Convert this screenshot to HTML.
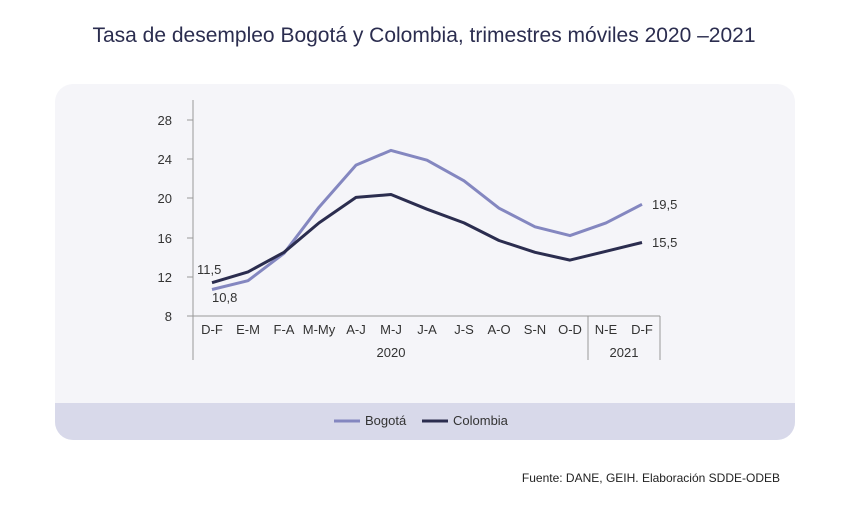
<!DOCTYPE html>
<html><head><meta charset="utf-8"><style>
body{margin:0;background:#fff;width:850px;height:511px;overflow:hidden;font-family:"Liberation Sans",sans-serif}
</style></head><body>
<svg width="850" height="511" xmlns="http://www.w3.org/2000/svg" font-family="Liberation Sans, sans-serif">
<rect width="850" height="511" fill="#fff"/>
<text x="424" y="42" text-anchor="middle" font-size="21" fill="#2b2d4f">Tasa de desempleo Bogotá y Colombia, trimestres móviles 2020 –2021</text>
<rect x="55" y="84" width="740" height="356" rx="18" fill="#f5f5f9"/>
<path d="M55 403 H795 V422 a18 18 0 0 1 -18 18 H73 a18 18 0 0 1 -18 -18 Z" fill="#d8d9ea"/>
<g stroke="#999" stroke-width="1" fill="none">
<line x1="193" y1="100" x2="193" y2="360"/>
<line x1="193" y1="316" x2="660" y2="316"/>
<line x1="588" y1="316" x2="588" y2="360"/>
<line x1="660" y1="316" x2="660" y2="360"/>
<line x1="187" y1="120" x2="193" y2="120"/><line x1="187" y1="159" x2="193" y2="159"/>
<line x1="187" y1="198" x2="193" y2="198"/><line x1="187" y1="238" x2="193" y2="238"/>
<line x1="187" y1="277" x2="193" y2="277"/><line x1="187" y1="316" x2="193" y2="316"/>
</g>
<g font-size="13" fill="#333" text-anchor="end">
<text x="172" y="125">28</text><text x="172" y="164">24</text><text x="172" y="203">20</text>
<text x="172" y="243">16</text><text x="172" y="282">12</text><text x="172" y="321">8</text>
</g>
<g font-size="13" fill="#333" text-anchor="middle">
<text x="212" y="334">D-F</text><text x="248" y="334">E-M</text><text x="284" y="334">F-A</text>
<text x="319" y="334">M-My</text><text x="356" y="334">A-J</text><text x="391" y="334">M-J</text>
<text x="427" y="334">J-A</text><text x="464" y="334">J-S</text><text x="499" y="334">A-O</text>
<text x="535" y="334">S-N</text><text x="570" y="334">O-D</text><text x="606" y="334">N-E</text>
<text x="642" y="334">D-F</text>
<text x="391" y="357">2020</text><text x="624" y="357">2021</text>
</g>
<polyline fill="none" stroke="#8487c0" stroke-width="3" stroke-linejoin="round" points="212,289.5 248,280.7 284,253.3 319,207.2 356,165.1 391,150.4 427,160.2 464,180.8 499,208.2 535,226.8 570,235.6 606,222.9 642,204.3"/>
<polyline fill="none" stroke="#2b2d4f" stroke-width="3" stroke-linejoin="round" points="212,282.7 248,271.9 284,252.3 319,222.9 356,197.4 391,194.5 427,209.2 464,222.9 499,240.5 535,252.3 570,260.1 606,251.3 642,242.5"/>
<g font-size="13" fill="#333">
<text x="197" y="274">11,5</text><text x="212" y="302">10,8</text>
<text x="652" y="209">19,5</text><text x="652" y="247">15,5</text>
</g>
<line x1="334" y1="421" x2="360" y2="421" stroke="#8487c0" stroke-width="3"/>
<text x="365" y="425" font-size="13" fill="#333">Bogotá</text>
<line x1="422" y1="421" x2="448" y2="421" stroke="#2b2d4f" stroke-width="3"/>
<text x="453" y="425" font-size="13" fill="#333">Colombia</text>
<text x="780" y="482" text-anchor="end" font-size="12" fill="#222">Fuente: DANE, GEIH. Elaboración SDDE-ODEB</text>
</svg>
</body></html>
